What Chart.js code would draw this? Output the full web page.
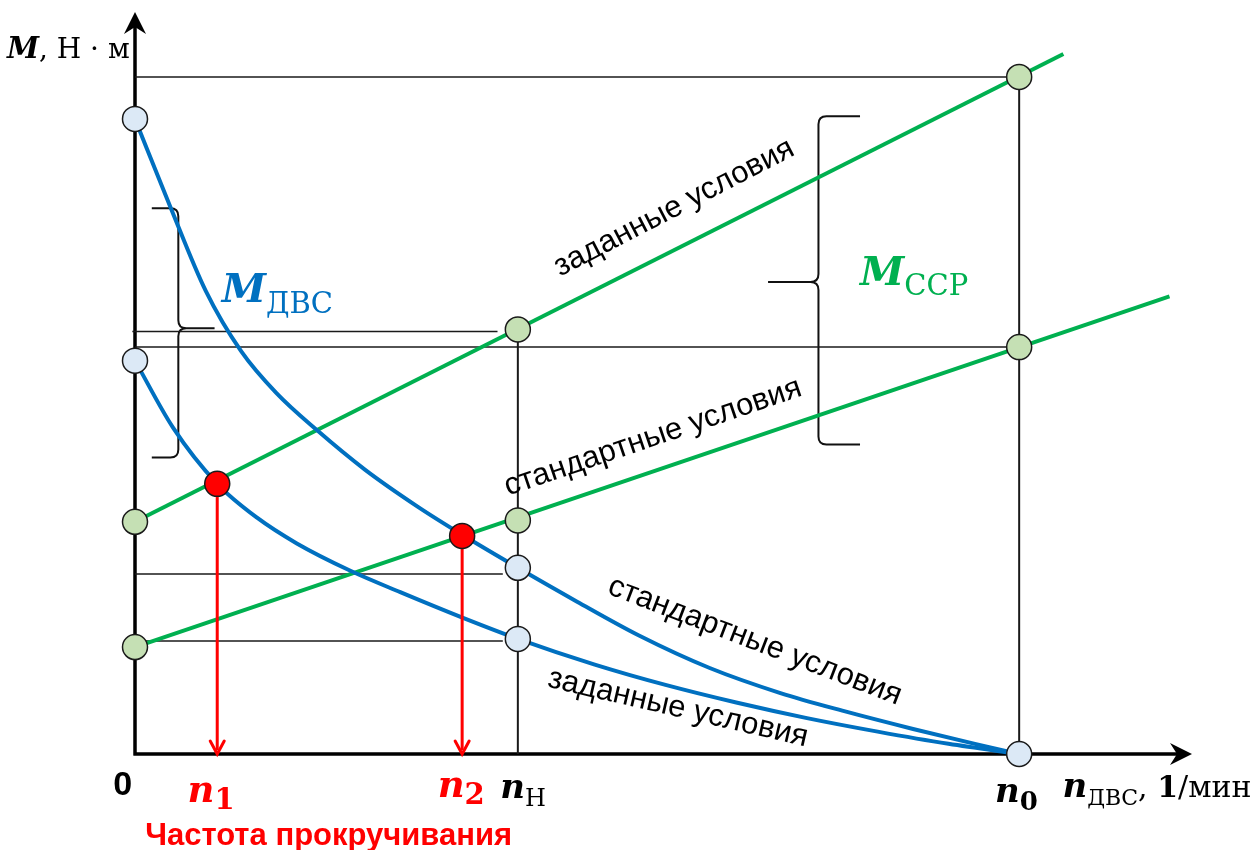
<!DOCTYPE html>
<html lang="ru">
<head>
  <meta charset="UTF-8">
  <title>Момент ДВС и момент сопротивления</title>
  <script src="https://cdn.jsdelivr.net/npm/chart.js"></script>
  <style>
    html, body { margin: 0; padding: 0; background: #fff; }
  </style>
</head>
<body>
  <canvas id="grafico" width="1254" height="850"></canvas>

  <script>
    // Частоты (условные единицы, n0 = 100)
    const nKey = { n1: 9.3, n2: 37.0, nH: 43.3, n0: 100 };

    // M_ДВС, стандартные условия
    const mdvsStdX = [0, 4, 8, 12, 16, 20.6, 26, 32, 37.1, 43.3, 50, 57, 65, 73, 80, 88, 95, 100];
    const mdvsStdY = [93.8, 80.8, 68.4, 59.5, 53.3, 47.8, 42.0, 36.5, 32.3, 27.5, 22.5, 17.5, 12.7, 9.0, 6.4, 3.7, 1.5, 0];

    // M_ДВС, заданные условия
    const mdvsSetX = [0, 4.3, 9.3, 13.8, 18.3, 24.3, 30, 37.1, 43.3, 52, 60, 68, 76, 84, 92, 100];
    const mdvsSetY = [58.1, 48.2, 39.9, 34.9, 31.1, 27.1, 23.9, 20.1, 17.0, 13.2, 10.2, 7.6, 5.3, 3.3, 1.5, 0];

    // M_ССР (прямые)
    const mssrSetX = [0, 105];
    const mssrSetY = [34.3, 103.4];
    const mssrStdX = [0, 117];
    const mssrStdY = [15.8, 67.6];

    // точки
    const blueMarkX = [0, 0, 43.3, 43.3, 100];
    const blueMarkY = [93.8, 58.1, 27.5, 17.0, 0];
    const greenMarkX = [0, 43.3, 100, 0, 43.3, 100];
    const greenMarkY = [34.3, 62.7, 100, 15.8, 34.5, 60.1];
    const redMarkX = [nKey.n1, nKey.n2];
    const redMarkY = [39.9, 32.2];

    // вспомогательные линии
    const guideY = [100, 62.4, 60.1, 26.6, 16.7];
    const guideFrom = [0, -0.3, 0, 0, 0];
    const guideTo = [100, 41.0, 100, 41.6, 41.6];
    const vGuideX = [nKey.nH, nKey.n0];
    const vGuideTop = [62.7, 100];

    const BLUE = '#0070c0', GREEN = '#00b050', RED = '#ff0000';
    const SERIF = '"DejaVu Serif", serif';
    const SANS = '"Liberation Sans", Arial, sans-serif';

    const pts = (xs, ys) => xs.map((x, i) => ({ x: x, y: ys[i] }));

    const datasets = [];
    datasets.push({ data: pts(redMarkX, redMarkY), backgroundColor: RED, borderColor: '#1a1a1a', borderWidth: 1.5, pointRadius: 12.5, order: 0 });
    datasets.push({ data: pts(blueMarkX, blueMarkY), backgroundColor: '#dce9f6', borderColor: '#1a1a1a', borderWidth: 1.5, pointRadius: 12.5, order: 0 });
    datasets.push({ data: pts(greenMarkX, greenMarkY), backgroundColor: '#c5e0b4', borderColor: '#1a1a1a', borderWidth: 1.5, pointRadius: 12.5, order: 0 });
    redMarkX.forEach((x, i) => {
      datasets.push({ data: [{ x: x, y: redMarkY[i] }, { x: x, y: 0.6 }], showLine: true, borderColor: RED, borderWidth: 3, pointRadius: 0, order: 1 });
    });
    [[mdvsStdX, mdvsStdY, BLUE], [mdvsSetX, mdvsSetY, BLUE], [mssrSetX, mssrSetY, GREEN], [mssrStdX, mssrStdY, GREEN]].forEach(c => {
      datasets.push({ data: pts(c[0], c[1]), showLine: true, borderColor: c[2], borderWidth: 4, pointRadius: 0, tension: 0.4, cubicInterpolationMode: 'monotone', order: 2 });
    });
    guideY.forEach((y, i) => {
      datasets.push({ data: [{ x: guideFrom[i], y: y }, { x: guideTo[i], y: y }], showLine: true, borderColor: '#1a1a1a', borderWidth: 1.5, pointRadius: 0, order: 3 });
    });
    vGuideX.forEach((x, i) => {
      datasets.push({ data: [{ x: x, y: 0 }, { x: x, y: vGuideTop[i] }], showLine: true, borderColor: '#1a1a1a', borderWidth: 2, pointRadius: 0, order: 3 });
    });
    datasets.forEach(d => { d.clip = false; d.fill = false; });

    // подписи
    const textLabels = [
      { x: -0.6, y: 102.8, align: 'right', parts: [
        { t: 'M', font: 'italic bold 29px ' + SERIF, color: '#000' },
        { t: ', Н · м', font: '28px ' + SERIF, color: '#000' }] },
      { x: -1.4, y: -6.1, align: 'center', parts: [{ t: '0', font: 'bold 34px ' + SANS, color: '#000' }] },
      { x: 8.6, y: -7.1, align: 'center', parts: [
        { t: 'n', font: 'italic bold 37px ' + SERIF, color: RED },
        { t: '1', font: 'bold 29px ' + SERIF, color: RED, dy: 7 }] },
      { x: 36.9, y: -6.4, align: 'center', parts: [
        { t: 'n', font: 'italic bold 37px ' + SERIF, color: RED },
        { t: '2', font: 'bold 29px ' + SERIF, color: RED, dy: 7 }] },
      { x: 43.9, y: -6.5, align: 'center', parts: [
        { t: 'n', font: 'italic bold 34px ' + SERIF, color: '#000' },
        { t: 'Н', font: '24px ' + SERIF, color: '#000', dy: 8 }] },
      { x: 99.7, y: -7.1, align: 'center', parts: [
        { t: 'n', font: 'italic bold 34px ' + SERIF, color: '#000' },
        { t: '0', font: 'bold 26px ' + SERIF, color: '#000', dy: 8 }] },
      { x: 104.9, y: -6.4, align: 'left', parts: [
        { t: 'n', font: 'italic bold 34px ' + SERIF, color: '#000' },
        { t: 'ДВС', font: '22px ' + SERIF, color: '#000', dy: 8 },
        { t: ', ', font: '30px ' + SERIF, color: '#000' },
        { t: '1', font: 'bold 30px ' + SERIF, color: '#000' },
        { t: '/мин', font: '30px ' + SERIF, color: '#000' }] },
      { x: 21.9, y: -13.4, align: 'center', parts: [{ t: 'Частота прокручивания', font: 'bold 31px ' + SANS, color: RED }] },
      { x: 9.8, y: 66.8, align: 'left', parts: [
        { t: 'M', font: 'italic bold 40px ' + SERIF, color: BLUE },
        { t: 'ДВС', font: '29px ' + SERIF, color: BLUE, dy: 11 }] },
      { x: 82.0, y: 69.3, align: 'left', parts: [
        { t: 'M', font: 'italic bold 40px ' + SERIF, color: GREEN },
        { t: 'ССР', font: '29px ' + SERIF, color: GREEN, dy: 10 }] }
    ];

    const slantLabels = [
      { t: 'заданные условия', x: 61.0, y: 80.6, angle: -27.4 },
      { t: 'стандартные условия', x: 58.6, y: 46.7, angle: -18.8 },
      { t: 'стандартные условия', x: 70.1, y: 16.6, angle: 21 },
      { t: 'заданные условия', x: 61.4, y: 6.7, angle: 13 }
    ];

    // фигурные скобки: xv – вертикаль, xh – концы, xt – носик
    const braces = [
      { xv: 4.9, xh: 1.9, xt: 9.0, yt: 80.6, ym: 62.9, yb: 43.8 },
      { xv: 77.3, xh: 82.0, xt: 71.6, yt: 94.2, ym: 69.7, yb: 45.7 }
    ];

    function drawParts(ctx, parts, x, y, align) {
      let w = 0;
      parts.forEach(p => { ctx.font = p.font; p.w = ctx.measureText(p.t).width; w += p.w; });
      let cx = align === 'center' ? x - w / 2 : (align === 'right' ? x - w : x);
      parts.forEach(p => {
        ctx.font = p.font;
        ctx.fillStyle = p.color;
        ctx.fillText(p.t, cx, y + (p.dy || 0));
        cx += p.w;
      });
    }

    const schemePlugin = {
      id: 'scheme',
      beforeDatasetsDraw(chart) {
        const { ctx, chartArea: a, scales } = chart;
        const X = v => scales.x.getPixelForValue(v), Y = v => scales.y.getPixelForValue(v);
        const x0 = X(0), y0 = Y(0);
        ctx.save();
        ctx.strokeStyle = '#000';
        ctx.fillStyle = '#000';
        ctx.lineWidth = 3.5;
        ctx.beginPath();
        ctx.moveTo(x0, y0 + 1.5); ctx.lineTo(x0, a.top + 8);
        ctx.moveTo(x0 - 1.5, y0); ctx.lineTo(a.right - 10, y0);
        ctx.stroke();
        const tipY = a.top - 4;
        ctx.beginPath();
        ctx.moveTo(x0, tipY); ctx.lineTo(x0 - 11, tipY + 22); ctx.lineTo(x0, tipY + 15); ctx.lineTo(x0 + 11, tipY + 22);
        ctx.closePath(); ctx.fill();
        const tipX = a.right - 4;
        ctx.beginPath();
        ctx.moveTo(tipX, y0); ctx.lineTo(tipX - 22, y0 - 11); ctx.lineTo(tipX - 15, y0); ctx.lineTo(tipX - 22, y0 + 11);
        ctx.closePath(); ctx.fill();

        // скобки
        ctx.lineWidth = 2;
        ctx.strokeStyle = '#111';
        braces.forEach(b => {
          const xv = X(b.xv), xh = X(b.xh), xt = X(b.xt), yt = Y(b.yt), ym = Y(b.ym), yb = Y(b.yb);
          const d = Math.sign(xt - xv), r = 8;
          ctx.beginPath();
          ctx.moveTo(xh, yt);
          ctx.lineTo(xv - d * r, yt);
          ctx.quadraticCurveTo(xv, yt, xv, yt + r);
          ctx.lineTo(xv, ym - r);
          ctx.quadraticCurveTo(xv, ym, xv + d * r, ym);
          ctx.lineTo(xt, ym);
          ctx.moveTo(xv + d * r, ym);
          ctx.quadraticCurveTo(xv, ym, xv, ym + r);
          ctx.lineTo(xv, yb - r);
          ctx.quadraticCurveTo(xv, yb, xv - d * r, yb);
          ctx.lineTo(xh, yb);
          ctx.stroke();
        });
        ctx.restore();
      },
      afterDatasetsDraw(chart) {
        const { ctx, scales } = chart;
        const X = v => scales.x.getPixelForValue(v), Y = v => scales.y.getPixelForValue(v);
        ctx.save();
        // стрелки частот прокручивания
        ctx.strokeStyle = RED;
        ctx.lineWidth = 3;
        ctx.lineCap = 'round';
        redMarkX.forEach(x => {
          const ax = X(x), ay = Y(0);
          ctx.beginPath();
          ctx.moveTo(ax - 7, ay - 13); ctx.lineTo(ax, ay); ctx.lineTo(ax + 7, ay - 13);
          ctx.stroke();
        });

        ctx.textAlign = 'left';
        ctx.textBaseline = 'alphabetic';
        textLabels.forEach(l => drawParts(ctx, l.parts, X(l.x), Y(l.y), l.align));

        ctx.font = '31px ' + SANS;
        ctx.fillStyle = '#000';
        ctx.textAlign = 'center';
        slantLabels.forEach(l => {
          ctx.save();
          ctx.translate(X(l.x), Y(l.y));
          ctx.rotate(l.angle * Math.PI / 180);
          ctx.fillText(l.t, 0, 31 * 0.26);
          ctx.restore();
        });
        ctx.restore();
      }
    };

    new Chart(document.getElementById('grafico').getContext('2d'), {
      type: 'scatter',
      data: { datasets: datasets },
      options: {
        responsive: false,
        animation: false,
        events: [],
        layout: { padding: { left: 135, right: 58, top: 16, bottom: 96 } },
        scales: {
          x: { type: 'linear', min: 0, max: 120, display: false },
          y: { type: 'linear', min: 0, max: 109, display: false }
        },
        plugins: { legend: { display: false }, tooltip: { enabled: false } }
      },
      plugins: [schemePlugin]
    });
  </script>
</body>
</html>
